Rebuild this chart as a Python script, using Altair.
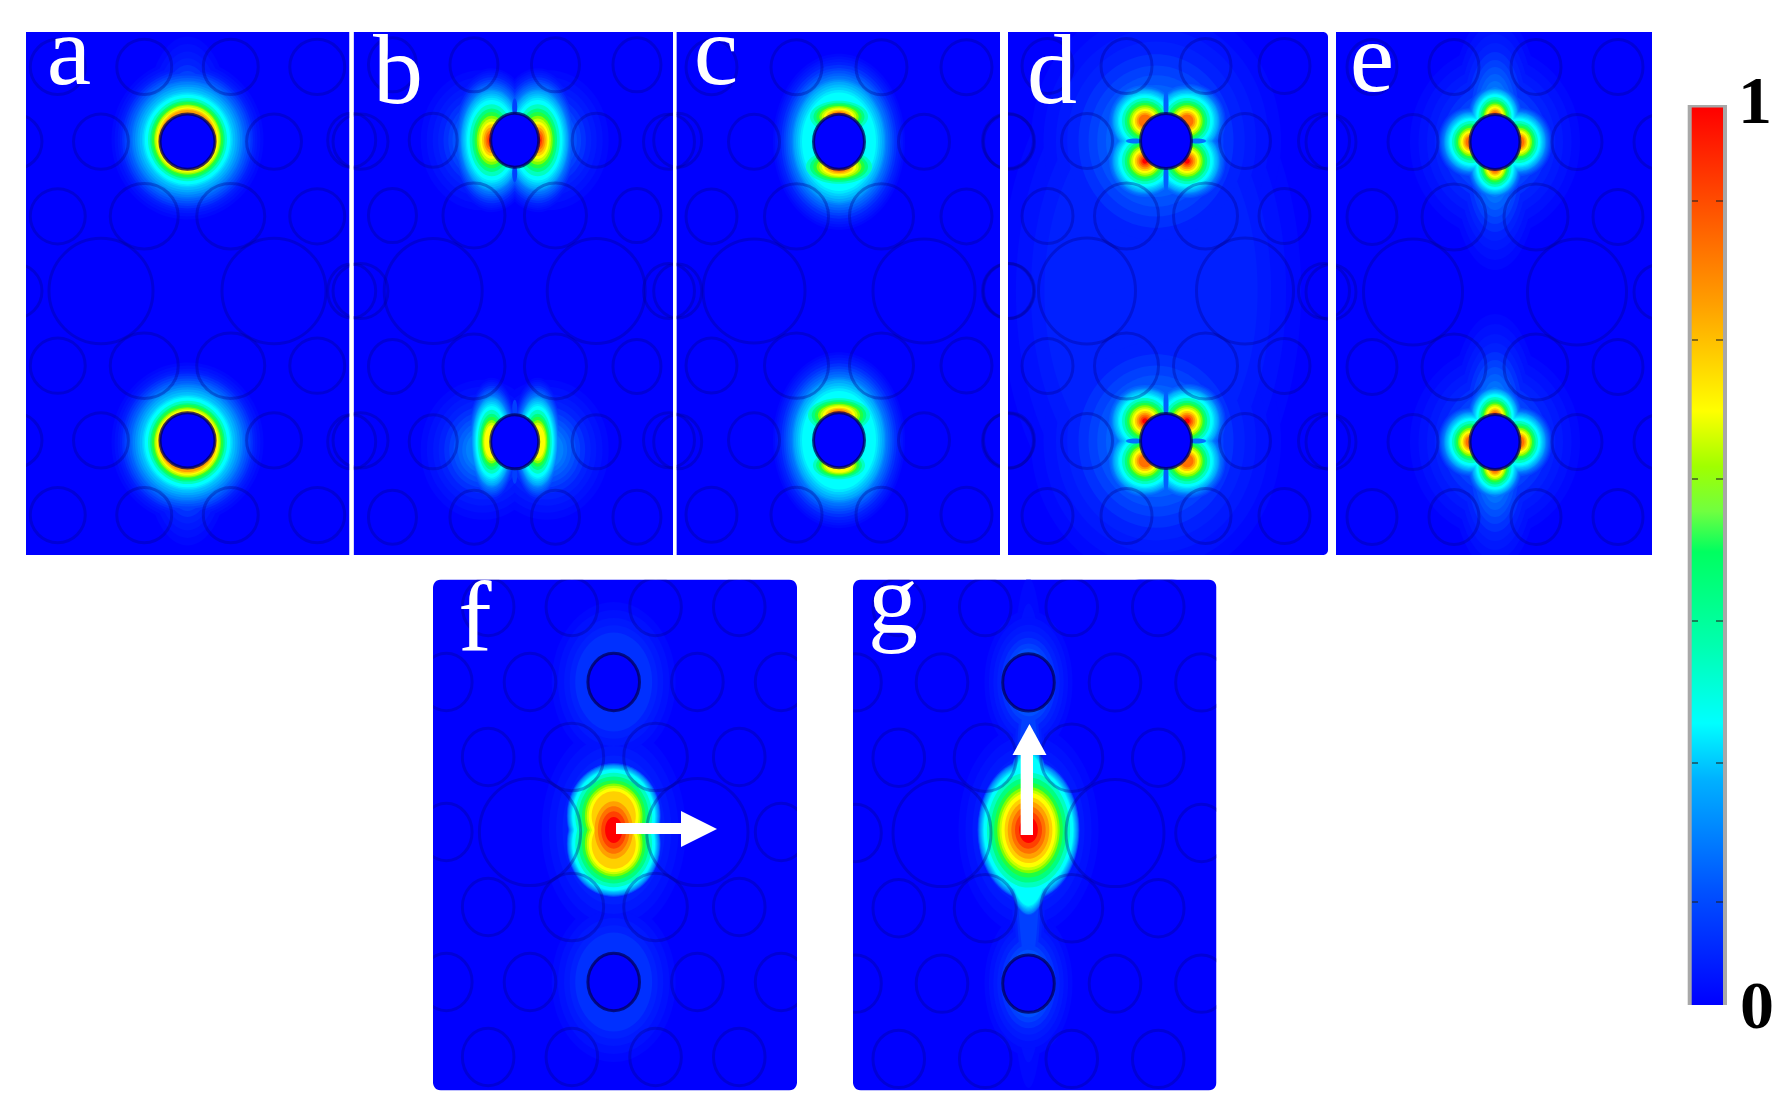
import altair as alt
import pandas as pd

# ---- panels: name, left, right, top, bottom, centre x, centre y, column pitch, row pitch,
#      radii x of small / middle / big rods
PANEL_NAMES = ["a", "b", "c", "d", "e", "f", "g"]
PANEL_LEFT = [26, 353.6, 676.4, 1008, 1336, 433, 853]
PANEL_RIGHT = [349.5, 673, 1000, 1328, 1652, 797, 1216.5]
PANEL_TOP = [32, 32, 32, 32, 32, 579.5, 579.5]
PANEL_BOTTOM = [555, 555, 555, 555, 555, 1090.6, 1090.6]
CENTER_X = [187.5, 514.7, 839, 1166, 1495, 613.7, 1028.5]
CENTER_Y = [291, 291, 291, 291, 292, 832, 833]
PITCH_X = [86.5, 81.5, 85, 79, 82, 83.7, 86.5]
PITCH_Y = [74.7, 75.4, 74.6, 75, 75, 75, 75.3]
RX_SMALL = [27.5, 24, 25.5, 25.5, 25, 25.8, 25.8]
RX_MID = [34, 31, 32, 32, 32, 31.8, 31]
RX_BIG = [52, 49, 51, 48.5, 49.5, 50.6, 49]
RY_SMALL = [27.6, 27, 27.5, 27.5, 27.5, 28.7, 28.7]
RY_MID = [32.7, 32.5, 32.7, 33, 33, 33.8, 33.8]
RY_BIG = [52.7, 52.5, 52, 53, 53, 53.6, 53.6]

# ---- rod lattice: (row, column in pitches, kind)
LATTICE = [
    (-3, -1.5, "s"), (-3, -0.5, "s"), (-3, 0.5, "s"), (-3, 1.5, "s"),
    (-2, -2, "s"), (-2, -1, "s"), (-2, 1, "s"), (-2, 2, "s"),
    (-1, -1.5, "s"), (-1, -0.5, "m"), (-1, 0.5, "m"), (-1, 1.5, "s"),
    (0, -2, "s"), (0, -1, "b"), (0, 1, "b"), (0, 2, "s"),
    (1, -1.5, "s"), (1, -0.5, "m"), (1, 0.5, "m"), (1, 1.5, "s"),
    (2, -2, "s"), (2, -1, "s"), (2, 1, "s"), (2, 2, "s"),
    (3, -1.5, "s"), (3, -0.5, "s"), (3, 0.5, "s"), (3, 1.5, "s"),
]
HOLE_ROWS = [-2, 2]

# ---- field colour levels, low to high, with contour radius as share of a blob's radius
LEVEL_COLORS = ["#0008ff", "#0010ff", "#0018ff", "#0020ff", "#0030ff", "#0040ff", "#0050ff", "#0060ff",
                "#0070ff", "#0080ff", "#0094ff", "#00a8ff", "#00bcff", "#00d0ff", "#00e8ff", "#00ffff",
                "#00ffc0", "#00ff80", "#20ff40", "#80ff00", "#c8ff00", "#ffff00", "#ffd000",
                "#ffa000", "#ff7000", "#ff4000", "#ff0000"]
PROFILE_LOBE = [1.0, .97, .94, .91, .875, .84, .81, .78, .75, .72, .70, .68, .65, .62, .59, .56,
                .50, .44, .39, .34, .30, .26, .22, .18, .14, .10, .06]
PROFILE_CORE = [1.0, .995, .99, .985, .98, .975, .97, .96, .955, .95, .935, .92, .905, .89, .875, .86,
                .80, .73, .66, .60, .56, .52, .46, .40, .33, .26, .18]
PROFILE_RING = [1.0, .96, .92, .89, .86, .83, .80, .77, .74, .72, .69, .66, .63, .60, .58, .56,
                .52, .49, .47, .44, .425, .405, .39, .37, .36, .35, .34]
PROFILE_GLOW = [1.0, .90, .80, .71, .62, .54, .47, .40, .33, .27, .21, .16, .12, .08]
PROFILES = {"lobe": PROFILE_LOBE, "core": PROFILE_CORE, "ring": PROFILE_RING, "glow": PROFILE_GLOW}

# ---- field blobs: panel, anchor row, dx, dy, rx, ry, lowest level, highest level, profile
BLOBS = [
    ("a", -2, 0, -2, 76, 80, 0, 23, "ring"), ("a", -2, 0, -24, 70, 30, 21, 26, "lobe"),
    ("a", 2, 0, 2, 76, 80, 0, 23, "ring"), ("a", 2, 0, 24, 70, 30, 21, 26, "lobe"),
    ("a", -2, 0, -30, 40, 75, 0, 6, "glow"), ("a", 2, 0, 30, 40, 75, 0, 6, "glow"),

    ("b", -2, -23, 0, 44, 72, 0, 26, "lobe"), ("b", -2, 23, 0, 44, 72, 0, 26, "lobe"),
    ("b", -2, -34, 0, 60, 70, 0, 7, "glow"), ("b", -2, 34, 0, 60, 70, 0, 7, "glow"),
    ("b", 2, -23, 0, 28, 64, 0, 21, "lobe"), ("b", 2, 23, 0, 28, 64, 0, 21, "lobe"),
    ("b", 2, -32, 8, 62, 70, 0, 9, "glow"), ("b", 2, 32, 8, 62, 70, 0, 9, "glow"),

    ("c", -2, 0, 0, 66, 88, 0, 15, "lobe"), ("c", 2, 0, 0, 66, 88, 0, 15, "lobe"),
    ("c", -2, 0, -25, 58, 32, 16, 25, "lobe"), ("c", -2, 0, 25, 66, 34, 16, 26, "lobe"),
    ("c", 2, 0, -25, 62, 34, 16, 26, "lobe"), ("c", 2, 0, 25, 52, 28, 16, 21, "lobe"),

    ("d", 0, -15, 0, 150, 262, 0, 3, "glow"),
    ("d", -2, -10, 0, 125, 140, 0, 8, "glow"), ("d", 2, -10, 0, 125, 140, 0, 8, "glow"),
    ("d", -2, -21, -20, 46, 46, 0, 24, "lobe"), ("d", -2, 21, -20, 46, 46, 0, 24, "lobe"),
    ("d", -2, -21, 20, 46, 46, 0, 26, "lobe"), ("d", -2, 21, 20, 46, 46, 0, 26, "lobe"),
    ("d", 2, -21, -20, 46, 46, 0, 26, "lobe"), ("d", 2, 21, -20, 46, 46, 0, 26, "lobe"),
    ("d", 2, -21, 20, 46, 46, 0, 24, "lobe"), ("d", 2, 21, 20, 46, 46, 0, 24, "lobe"),

    ("e", -2, 0, -28, 44, 100, 0, 13, "glow"), ("e", -2, 0, 28, 44, 100, 0, 13, "glow"),
    ("e", 2, 0, -28, 44, 100, 0, 13, "glow"), ("e", 2, 0, 28, 44, 100, 0, 13, "glow"),
    ("e", -2, 0, 0, 85, 95, 0, 7, "glow"), ("e", 2, 0, 0, 85, 95, 0, 7, "glow"),
    ("e", -2, 0, -25, 33, 40, 0, 24, "lobe"), ("e", -2, 0, 25, 33, 40, 0, 25, "lobe"),
    ("e", -2, -24, 0, 38, 42, 0, 24, "lobe"), ("e", -2, 24, 0, 38, 42, 0, 24, "lobe"),
    ("e", 2, 0, -25, 33, 40, 0, 25, "lobe"), ("e", 2, 0, 25, 33, 40, 0, 24, "lobe"),
    ("e", 2, -24, 0, 38, 42, 0, 24, "lobe"), ("e", 2, 24, 0, 38, 42, 0, 24, "lobe"),

    ("f", 0, 0, -2, 72, 105, 0, 4, "glow"),
    ("f", 0, 0, -16, 48, 54, 0, 22, "core"), ("f", 0, 0, 12, 48, 54, 0, 22, "core"),
    ("f", 0, 0, -2, 48, 72, 23, 26, "core"),
    ("f", -2, 0, 0, 62, 80, 0, 4, "glow"), ("f", 2, 0, 0, 62, 80, 0, 4, "glow"),

    ("g", 0, 0, 0, 22, 255, 0, 5, "glow"), ("g", 0, 0, -3, 70, 105, 0, 5, "glow"),
    ("g", 0, 0, -3, 26, 88, 0, 15, "core"), ("g", 0, 0, -3, 52, 72, 0, 26, "core"),
    ("g", -2, 0, 0, 44, 72, 0, 7, "glow"), ("g", 2, 0, 0, 44, 72, 0, 7, "glow"),
]

# ---- thin dark field nodes: panel, anchor row, dx, dy, rx, ry, colour
NODES = [
    ("b", -2, 0, -33, 2.5, 9, "#0040ff"), ("b", -2, 0, 33, 2.5, 9, "#0040ff"),
    ("b", 2, 0, -33, 2.5, 9, "#0040ff"), ("b", 2, 0, 33, 2.5, 9, "#0040ff"),
    ("d", -2, 0, -36, 2.5, 16, "#0060ff"), ("d", -2, 0, 36, 2.5, 16, "#0060ff"),
    ("d", 2, 0, -36, 2.5, 16, "#0060ff"), ("d", 2, 0, 36, 2.5, 16, "#0060ff"),
    ("d", -2, -31, 0, 9, 2.5, "#0070ff"), ("d", -2, 31, 0, 9, 2.5, "#0070ff"),
    ("d", 2, -31, 0, 9, 2.5, "#0070ff"), ("d", 2, 31, 0, 9, 2.5, "#0070ff"),
]

# ---- white gaps around panels
GAP_X0 = [8, 349.5, 673, 1000, 1328, 1652, 8, 8, 797, 1216.5, 8]
GAP_X1 = [26, 353.6, 676.4, 1008, 1336, 1686, 1686, 433, 853, 1686, 1686]
GAP_Y0 = [8, 8, 8, 8, 8, 8, 555, 579.5, 579.5, 579.5, 1090.6]
GAP_Y1 = [555, 555, 555, 555, 555, 555, 579.5, 1090.6, 1090.6, 1090.6, 1104]
GAP_TOP_X0 = [26]
GAP_TOP_X1 = [1652]
GAP_TOP_Y0 = [8]
GAP_TOP_Y1 = [32]

# ---- letters
LETTERS = ["a", "b", "c", "d", "e", "f", "g"]
LETTER_X = [69, 398, 716, 1052, 1372, 475, 893]
LETTER_Y = [84, 103, 84, 103, 91, 651, 633]

# ---- arrows
SHAFT_X0 = [616, 1020.7]
SHAFT_X1 = [684, 1033]
SHAFT_Y0 = [823, 752]
SHAFT_Y1 = [834, 835]
HEAD_X = [699, 1029.5]
HEAD_Y = [829, 739.5]
HEAD_SIZE = [1296, 1156]
HEAD_PATH = ["M-1,-1L1,0L-1,1Z", "M-1,0.91L0,-0.91L1,0.91Z"]

# ---- colour bar
BAR_OFFSETS = [0, .125, .25, .314, .40, .505, .55, .60, .662, .78, .89, 1]
BAR_COLORS = ["#0000ff", "#0050ff", "#00b0ff", "#00ffff", "#00ffb0", "#00ff60", "#70ff40", "#a0ff00",
              "#ffff00", "#ffa000", "#ff5000", "#ff0000"]
BAR_TICKS = [201, 340, 479, 621, 763, 902]
BAR_LABELS = ["1", "0"]
BAR_LABEL_X = [1755, 1757]
BAR_LABEL_Y = [123, 1028]


def ellipse_path(rx, ry):
    a = round(rx / ry, 3)
    k = round(a * 0.5523, 3)
    c = 0.5523
    return (f"M{-a},0C{-a},{-c} {-k},-1 0,-1C{k},-1 {a},{-c} {a},0"
            f"C{a},{c} {k},1 0,1C{-k},1 {-a},{c} {-a},0Z")


def anchor(panel, row):
    i = PANEL_NAMES.index(panel)
    return CENTER_X[i], CENTER_Y[i] + row * PITCH_Y[i]


rings, holes = [], []
for i, name in enumerate(PANEL_NAMES):
    radii = {"s": (RX_SMALL[i], RY_SMALL[i]), "m": (RX_MID[i], RY_MID[i]), "b": (RX_BIG[i], RY_BIG[i])}
    for row, col, kind in LATTICE:
        rx, ry = radii[kind]
        rings.append(dict(x=CENTER_X[i] + col * PITCH_X[i], y=CENTER_Y[i] + row * PITCH_Y[i],
                          path=ellipse_path(rx, ry), size=(2 * ry) ** 2))
    for row in HOLE_ROWS:
        rx, ry = radii["s"]
        holes.append(dict(x=CENTER_X[i], y=CENTER_Y[i] + row * PITCH_Y[i],
                          path=ellipse_path(rx, ry), size=(2 * ry) ** 2))

field = []
for panel, row, dx, dy, rx, ry, low, high, prof in BLOBS:
    ax, ay = anchor(panel, row)
    shares = PROFILES[prof]
    for lev in range(low, high + 1):
        t = shares[lev]
        field.append(dict(level=lev, x=ax + dx, y=ay + dy, path=ellipse_path(rx, ry),
                          size=(2 * ry * t) ** 2, color=LEVEL_COLORS[lev]))
field.sort(key=lambda r: r["level"])

nodes = []
for panel, row, dx, dy, rx, ry, color in NODES:
    ax, ay = anchor(panel, row)
    nodes.append(dict(x=ax + dx, y=ay + dy, path=ellipse_path(rx, ry), size=(2 * ry) ** 2, color=color))

panels = pd.DataFrame(dict(name=PANEL_NAMES, x=PANEL_LEFT, x2=PANEL_RIGHT, y=PANEL_TOP, y2=PANEL_BOTTOM))
gaps = pd.DataFrame(dict(x=GAP_X0 + GAP_TOP_X0, x2=GAP_X1 + GAP_TOP_X1, y=GAP_Y0 + GAP_TOP_Y0, y2=GAP_Y1 + GAP_TOP_Y1))

sx = alt.Scale(domain=[8, 1781], nice=False, zero=False)
sy = alt.Scale(domain=[1104, 8], nice=False, zero=False)
X = alt.X("x:Q", scale=sx, axis=None)
Y = alt.Y("y:Q", scale=sy, axis=None)
X2 = alt.X2("x2:Q")
Y2 = alt.Y2("y2:Q")


def box(df, **mark):
    return alt.Chart(df).mark_rect(**mark).encode(x=X, x2=X2, y=Y, y2=Y2)


def symbols(rows, **mark):
    return alt.Chart(pd.DataFrame(rows)).mark_point(**mark).encode(
        x=X, y=Y,
        shape=alt.Shape("path:N", scale=None, legend=None),
        size=alt.Size("size:Q", scale=None, legend=None),
    )


BLUE = "#0000ff"
bg_plain = box(panels[panels.name.isin(["a", "b", "c", "e"])], color=BLUE)
bg_round = box(panels[panels.name.isin(["f", "g"])], color=BLUE, cornerRadius=8)
bg_d = box(panels[panels.name == "d"], color=BLUE, cornerRadiusTopRight=5, cornerRadiusBottomRight=5)

field_layer = symbols(field, filled=True, opacity=1, strokeWidth=0).encode(
    fill=alt.Fill("color:N", scale=None, legend=None))
node_layer = symbols(nodes, filled=True, opacity=1, strokeWidth=0).encode(
    fill=alt.Fill("color:N", scale=None, legend=None))
hole_fill = symbols(holes, filled=True, opacity=1, fill=BLUE, strokeWidth=0)
ring_layer = symbols(rings, filled=False, stroke="#00008c", strokeOpacity=0.34, strokeWidth=3, opacity=1)
hole_ring = symbols(holes, filled=False, stroke="#000050", strokeOpacity=0.72, strokeWidth=3, opacity=1)

gap_layer = box(gaps, color="white")

letters = alt.Chart(pd.DataFrame(dict(x=LETTER_X, y=LETTER_Y, t=LETTERS))).mark_text(
    font="Liberation Serif", fontSize=100, color="white", align="center", baseline="alphabetic"
).encode(x=X, y=Y, text="t:N")

shafts = box(pd.DataFrame(dict(x=SHAFT_X0, x2=SHAFT_X1, y=SHAFT_Y0, y2=SHAFT_Y1)), color="white")
heads = symbols(dict(x=HEAD_X, y=HEAD_Y, path=HEAD_PATH, size=HEAD_SIZE),
                filled=True, fill="white", opacity=1, strokeWidth=0)

bar_gradient = alt.LinearGradient(
    gradient="linear", x1=0, y1=1, x2=0, y2=0,
    stops=[alt.GradientStop(color=c, offset=o) for o, c in zip(BAR_OFFSETS, BAR_COLORS)],
)
bar_frame = box(pd.DataFrame(dict(x=[1687.7], x2=[1727], y=[105], y2=[1005])), color="#a8a8a8")
bar = box(pd.DataFrame(dict(x=[1691.7], x2=[1723], y=[107.5], y2=[1005])), fill=bar_gradient)
tick_rows = pd.DataFrame(dict(
    x=[1692] * len(BAR_TICKS) + [1716] * len(BAR_TICKS),
    x2=[1698] * len(BAR_TICKS) + [1723] * len(BAR_TICKS),
    y=BAR_TICKS * 2))
bar_ticks = alt.Chart(tick_rows).mark_rule(color="#202020", strokeWidth=2, opacity=0.55).encode(x=X, x2=X2, y=Y)
bar_text = alt.Chart(pd.DataFrame(dict(x=BAR_LABEL_X, y=BAR_LABEL_Y, t=BAR_LABELS))).mark_text(
    font="Liberation Serif", fontWeight="bold", fontSize=68, color="black",
    align="center", baseline="alphabetic"
).encode(x=X, y=Y, text="t:N")

chart = alt.layer(
    bg_plain, bg_round, bg_d, field_layer, node_layer, hole_fill, ring_layer, hole_ring,
    gap_layer, letters, shafts, heads, bar_frame, bar, bar_ticks, bar_text,
).properties(
    width=1773, height=1096, padding=0, background="white",
    autosize=alt.AutoSizeParams(type="none"),
).configure_view(stroke=None)

chart.save("out.html", embed_options={"renderer": "svg", "actions": False})
